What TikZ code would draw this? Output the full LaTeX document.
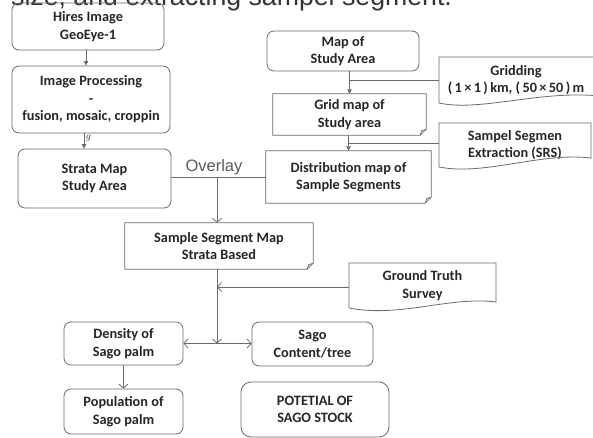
\documentclass[tikz,border=0pt]{standalone}
\usepackage{fontspec}
\setmainfont{Carlito}
\newfontfamily\arialf{Liberation Sans}
\usetikzlibrary{arrows.meta,calc}
\definecolor{ln}{HTML}{6A6A6A}
\definecolor{tx}{HTML}{262626}
\tikzset{
  boxline/.style={draw=ln, line width=0.8pt},
  txt/.style={align=center, text=tx, font=\bfseries\fontsize{14.3}{17.5}\selectfont, inner sep=0pt},
  rbox/.style={txt, boxline, rounded corners=7pt},
  conn/.style={draw=ln, line width=0.8pt},
  fillarrow/.style={conn, -{Triangle[length=4.5pt,width=4.5pt]}},
  openarrow/.style={conn, -{Straight Barb[length=4pt,width=9pt]}},
  bothopen/.style={conn, {Straight Barb[length=4pt,width=9pt]}-{Straight Barb[length=4pt,width=9pt]}},
}
\newcommand\foldedbox[1]{%
  \draw[boxline] (#1.north west) -- (#1.north east) -- ([yshift=6pt]#1.south east)
    -- ([xshift=-6pt]#1.south east) -- (#1.south west) -- cycle;
  \draw[boxline] ([xshift=-6pt]#1.south east) -- ([xshift=-4.5pt,yshift=4.5pt]#1.south east)
    -- ([yshift=6pt]#1.south east);}
\begin{document}
\begin{tikzpicture}[x=1pt,y=-1pt]
\useasboundingbox (0,0) rectangle (593,438);
\clip (0,0) rectangle (593,438);

% cut-off heading
\node[anchor=base west, font=\arialf\fontsize{26.7}{30}\selectfont, text=black!80, inner sep=0pt] (title) at (11,6) {size, and extracting sampel segment.};

% left column
\node[rbox, minimum width=152pt, minimum height=47pt] (hires) at (88,26.5) {Hires Image\\GeoEye-1};
\node[rbox, minimum width=158pt, minimum height=67pt] (proc) at (91,99.5) {Image Processing\\-\\fusion, mosaic, croppin};
\node[rbox, minimum width=153pt, minimum height=59pt] (strata) at (94.5,178.5) {Strata Map\\Study Area};

% right column
\node[rbox, minimum width=152pt, minimum height=40pt] (mapsa) at (343,51) {Map of\\Study Area};
\node[txt, minimum width=153pt, minimum height=41pt] (gridm) at (349.5,114.5) {Grid map of\\Study area};
\foldedbox{gridm}
\node[txt, minimum width=165pt, minimum height=52pt] (dist) at (348.5,177) {Distribution map of\\Sample Segments};
\foldedbox{dist}

% documents
\node[txt, minimum width=154pt, minimum height=46pt] (grid) at (516,80) {Gridding\\(\,1\,×\,1\,)\,km, (\,50\,×\,50\,)\,m};
\draw[boxline] (439,57) -- (600,57) -- (600,96) .. controls (540,90) and (480,112) .. (439,103) -- cycle;
\node[txt, minimum width=152pt, minimum height=44pt] (srs) at (515,145) {Sampel Segmen\\Extraction (SRS)};
\draw[boxline] (439,123) -- (591,123) -- (591,158) .. controls (540,152) and (485,176) .. (439,167) -- cycle;
\node[txt, minimum width=147pt, minimum height=45pt] (gt) at (422.5,285.5) {Ground Truth\\Survey};
\draw[boxline] (349,263) -- (496,263) -- (496,302) .. controls (450,296) and (400,318) .. (349,308) -- cycle;

% middle
\node[txt, minimum width=188pt, minimum height=46pt] (samp) at (219,246) {Sample Segment Map\\Strata Based};
\foldedbox{samp}

% bottom
\node[rbox, minimum width=119pt, minimum height=43pt] (dens) at (123.5,343.5) {Density of\\Sago palm};
\node[rbox, minimum width=119pt, minimum height=45pt] (pop) at (123.5,411.5) {Population of\\Sago palm};
\node[rbox, minimum width=121pt, minimum height=44pt] (sago) at (312.5,344) {Sago\\Content/tree};
\node[rbox, rounded corners=10pt, minimum width=148pt, minimum height=55pt] (pot) at (315,409.5) {POTETIAL OF\\SAGO STOCK};

% connectors
\draw[fillarrow] ([xshift=-2pt]hires.south) -- ([xshift=-2pt]hires.south |- proc.north);
\draw[fillarrow] ([xshift=-7pt]proc.south) -- ([xshift=-7pt]proc.south |- strata.north)
  node[pos=0.35, anchor=west, inner sep=1.5pt, font=\fontsize{10}{10}\selectfont, text=tx] (glabel) {$g$};
\draw[fillarrow] (gridm.north |- mapsa.south) -- (gridm.north);
\draw[conn] (grid.west) -- (grid.west -| gridm.north);
\draw[fillarrow] (gridm.south -| dist.north) -- (dist.north);
\draw[conn] ([yshift=2pt]srs.west) -- ([yshift=2pt]srs.west -| dist.north);

\draw[conn] (dist.west) -- (dist.west -| strata.east);
\node[anchor=base, font=\arialf\fontsize{16.5}{18}\selectfont, text=ln!85!black, inner sep=0pt] (ovl) at (214,172) {Overlay};
\coordinate (ov) at (217,177);
\draw[openarrow] (ov) -- (ov |- samp.north);
\draw[openarrow] (samp.south -| ov) -- (ov |- dens.east);
\draw[openarrow] ([yshift=-1.5pt]gt.west) -- ([yshift=-1.5pt]gt.west -| ov);
\draw[bothopen] (dens.east) -- (dens.east -| sago.west);
\draw[openarrow] (dens.south) -- (pop.north);
\end{tikzpicture}
\end{document}
